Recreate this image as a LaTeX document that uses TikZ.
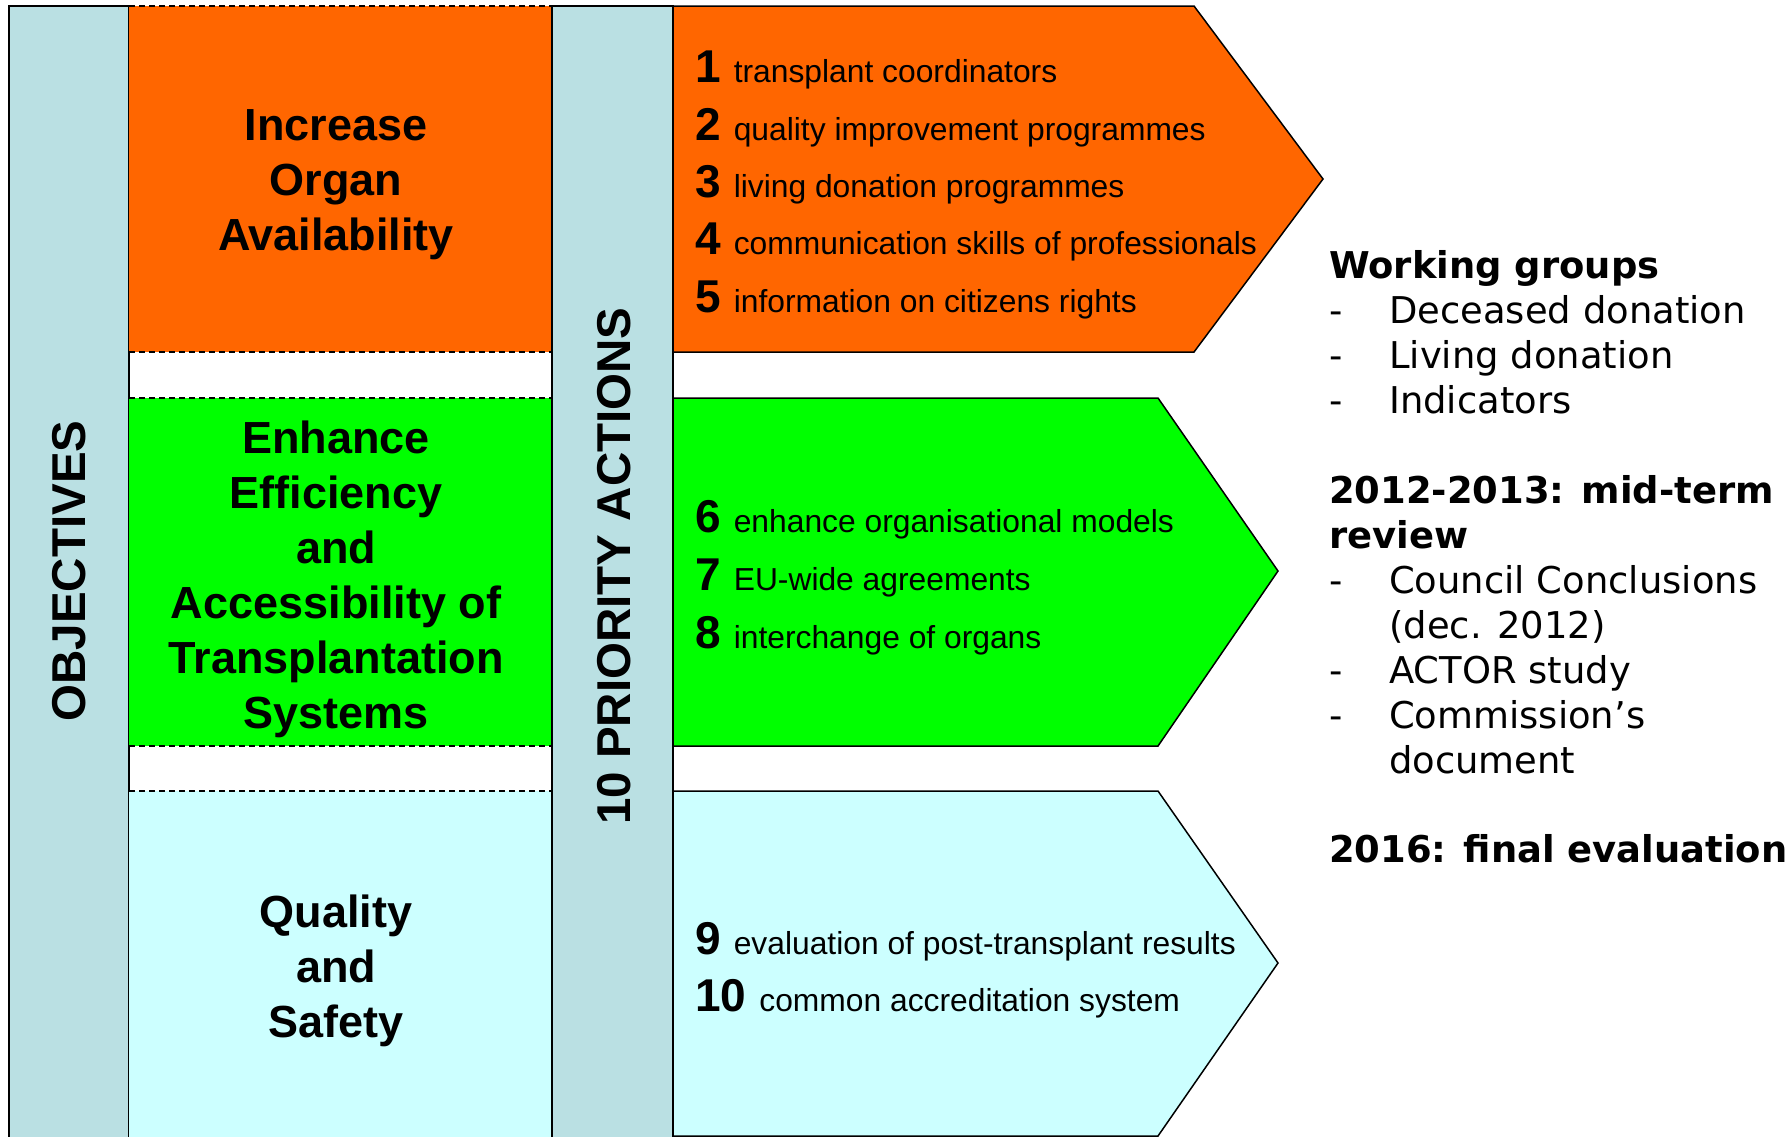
\documentclass[tikz,border=0pt]{standalone}
\usepackage{fontspec}
\setmainfont{Liberation Sans}
\newfontfamily\verd{DejaVu Sans}
\definecolor{colbg}{RGB}{186,224,227}
\definecolor{orng}{RGB}{255,102,0}
\definecolor{grn}{RGB}{0,255,0}
\definecolor{lcyan}{RGB}{204,255,255}
\newcommand\actnum[1]{{\bfseries\fontsize{46}{50}\selectfont #1}\hspace{13pt}}
\tikzset{
  vlabel/.style={rotate=90, font=\bfseries\fontsize{47.5}{50}\selectfont, inner sep=0pt},
  objtext/.style={align=center, font=\bfseries\fontsize{45}{55}\selectfont, inner sep=0pt},
  act/.style={anchor=base west, inner sep=0pt, font=\fontsize{31.8}{36}\selectfont},
  side/.style={anchor=base west, inner sep=0pt, font=\verd\fontsize{36.9}{44}\selectfont},
  sidehead/.style={anchor=base west, inner sep=0pt, font=\verd\bfseries\fontsize{36.9}{44}\selectfont},
  colbox/.style={fill=colbg, draw=black, line width=1.5pt},
  dashline/.style={draw=black, line width=1.5pt, dash pattern=on 6pt off 4pt},
  arrowbox/.style={draw=black, line width=1.5pt, line join=miter},
}
\begin{document}
\begin{tikzpicture}[x=1pt,y=-1pt]
\useasboundingbox (0,0) rectangle (1792,1136);
\fill[white] (0,0) rectangle (1792,1136);
% left column
\path[colbox] (9,6) rectangle (129,1145);
% objective boxes
\fill[orng] (129,6) rectangle (552,352);
\fill[grn] (129,398) rectangle (552,746);
\fill[lcyan] (129,791) rectangle (552,1145);
\foreach \yy in {6,352,398,746,791} {\draw[dashline] (129,\yy) -- (552,\yy);}
% second column
\path[colbox] (552,6) rectangle (673,1145);
% arrows
\path[arrowbox, fill=orng] (673,6) -- (1194,6) -- (1323,179) -- (1194,352) -- (673,352) -- cycle;
\path[arrowbox, fill=grn] (673,398) -- (1158,398) -- (1278,571) -- (1158,746) -- (673,746) -- cycle;
\path[arrowbox, fill=lcyan] (673,791) -- (1158,791) -- (1278,963) -- (1158,1136) -- (673,1136) -- cycle;
% column labels
\node[vlabel] (objlabel) at (69,571) {OBJECTIVES};
\node[vlabel] (prilabel) at (614,566) {10 PRIORITY ACTIONS};
% objectives
\node[objtext] (obj1) at (336,185) {Increase\\Organ\\Availability};
\node[objtext] (obj2) at (336,579) {Enhance\\Efficiency\\and\\Accessibility of\\Transplantation\\Systems};
\node[objtext] (obj3) at (336,971) {Quality\\and\\Safety};
% actions
\node[act] (a1) at (695,82) {\actnum{1}transplant coordinators};
\node[act] (a2) at (695,140) {\actnum{2}quality improvement programmes};
\node[act] (a3) at (695,197) {\actnum{3}living donation programmes};
\node[act] (a4) at (695,254) {\actnum{4}communication skills of professionals};
\node[act] (a5) at (695,312) {\actnum{5}information on citizens rights};
\node[act] (a6) at (695,532) {\actnum{6}enhance organisational models};
\node[act] (a7) at (695,590) {\actnum{7}EU-wide agreements};
\node[act] (a8) at (695,648) {\actnum{8}interchange of organs};
\node[act] (a9) at (695,954) {\actnum{9}evaluation of post-transplant results};
\node[act] (a10) at (695,1011) {\actnum{10}common accreditation system};
% side text
\node[sidehead] (wg) at (1329,278) {Working groups};
\node[side] (wg1) at (1329,323) {\makebox[60pt][l]{-}Deceased donation};
\node[side] (wg2) at (1329,368) {\makebox[60pt][l]{-}Living donation};
\node[side] (wg3) at (1329,413) {\makebox[60pt][l]{-}Indicators};
\node[sidehead] (mt) at (1329,503) {2012-2013: mid-term};
\node[sidehead] (mt0) at (1329,548) {review};
\node[side] (mt1) at (1329,593) {\makebox[60pt][l]{-}Council Conclusions};
\node[side] (mt1b) at (1329,638) {\hspace*{60pt}(dec. 2012)};
\node[side] (mt2) at (1329,683) {\makebox[60pt][l]{-}ACTOR study};
\node[side] (mt3) at (1329,728) {\makebox[60pt][l]{-}Commission’s};
\node[side] (mt3b) at (1329,773) {\hspace*{60pt}document};
\node[sidehead] (fe) at (1329,862) {2016: final evaluation};
\end{tikzpicture}
\end{document}
